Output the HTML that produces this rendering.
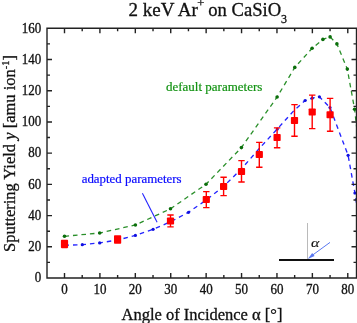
<!DOCTYPE html>
<html><head><meta charset="utf-8"><style>
html,body{margin:0;padding:0;background:#fff;width:357px;height:323px;overflow:hidden;}
svg{display:block;font-family:"Liberation Serif",serif;will-change:transform;}
</style></head><body>
<svg width="357" height="323" viewBox="0 0 357 323">
<defs><clipPath id="c"><rect x="47.0" y="28.3" width="309.5" height="249.7"/></clipPath></defs>
<line x1="307.5" y1="223" x2="307.5" y2="259" stroke="#a8a8a8" stroke-width="0.8"/>
<line x1="279" y1="260" x2="334" y2="260" stroke="#111" stroke-width="2"/>
<line x1="330" y1="242.4" x2="312" y2="255.5" stroke="#5a78f0" stroke-width="1.0"/>
<path d="M307.8,259 L312.2,253.1 L314.6,256.1 Z" fill="#5a78f0"/>
<text transform="translate(310.9,246.7) scale(1,0.8)" font-family="Liberation Serif" font-style="italic" font-size="16" fill="#111" stroke="#111" stroke-width="0.15">&#945;</text>
<g clip-path="url(#c)"><polyline points="64.50,236.30 99.70,233.00 135.40,225.00 170.50,208.80 206.00,184.30 241.40,147.60 277.10,97.00 294.80,67.40 312.10,48.30 322.90,39.40 330.10,36.90 336.90,43.90 347.30,69.10 354.60,109.20 365.00,200.00" fill="none" stroke="#2a8f2a" stroke-width="1.3" stroke-dasharray="4.6,3.9"/><polyline points="64.50,245.20 82.30,244.70 99.70,242.90 117.60,240.00 135.40,235.40 153.10,229.30 170.50,221.80 188.50,212.30 206.20,200.00 223.60,186.40 241.50,168.80 259.30,148.50 277.30,129.00 294.40,110.10 305.10,100.50 312.10,98.20 319.40,96.80 330.00,107.60 348.10,155.30 354.90,193.00 362.00,240.00" fill="none" stroke="#2424ff" stroke-width="1.35" stroke-dasharray="4.5,4"/><circle cx="64.50" cy="236.30" r="1.8" fill="#0b6e0b"/><circle cx="99.70" cy="233.00" r="1.8" fill="#0b6e0b"/><circle cx="135.40" cy="225.00" r="1.8" fill="#0b6e0b"/><circle cx="170.50" cy="208.80" r="1.8" fill="#0b6e0b"/><circle cx="206.00" cy="184.30" r="1.8" fill="#0b6e0b"/><circle cx="241.40" cy="147.60" r="1.8" fill="#0b6e0b"/><circle cx="277.10" cy="97.00" r="1.8" fill="#0b6e0b"/><circle cx="294.80" cy="67.40" r="1.8" fill="#0b6e0b"/><circle cx="312.10" cy="48.30" r="1.8" fill="#0b6e0b"/><circle cx="322.90" cy="39.40" r="1.8" fill="#0b6e0b"/><circle cx="330.10" cy="36.90" r="1.8" fill="#0b6e0b"/><circle cx="336.90" cy="43.90" r="1.8" fill="#0b6e0b"/><circle cx="347.30" cy="69.10" r="1.8" fill="#0b6e0b"/><circle cx="354.60" cy="109.20" r="1.8" fill="#0b6e0b"/><circle cx="82.30" cy="244.70" r="1.6" fill="#1010e0"/><circle cx="99.70" cy="242.90" r="1.6" fill="#1010e0"/><circle cx="135.40" cy="235.40" r="1.6" fill="#1010e0"/><circle cx="153.10" cy="229.30" r="1.6" fill="#1010e0"/><circle cx="188.50" cy="212.30" r="1.6" fill="#1010e0"/><circle cx="277.30" cy="129.00" r="1.6" fill="#1010e0"/><circle cx="305.10" cy="100.50" r="1.6" fill="#1010e0"/><circle cx="312.10" cy="98.20" r="1.6" fill="#1010e0"/><circle cx="319.40" cy="96.80" r="1.6" fill="#1010e0"/><circle cx="330.00" cy="107.60" r="1.6" fill="#1010e0"/><circle cx="348.10" cy="155.30" r="1.6" fill="#1010e0"/><circle cx="354.90" cy="193.00" r="1.6" fill="#1010e0"/></g>
<line x1="142.4" y1="193.2" x2="157.1" y2="222.2" stroke="#2424ff" stroke-width="1.1"/>
<rect x="60.90" y="239.85" width="7.2" height="8.30" rx="0.8" fill="#ff0000"/>
<rect x="114.00" y="235.20" width="7.2" height="8.60" rx="0.8" fill="#ff0000"/>
<path d="M170.50,215.00 V226.90 M167.30,215.00 H173.70 M167.30,226.90 H173.70" stroke="#ff0000" stroke-width="1.4" fill="none"/>
<rect x="166.90" y="217.60" width="7.2" height="7.00" rx="0.8" fill="#ff0000"/>
<path d="M206.30,191.60 V207.60 M203.10,191.60 H209.50 M203.10,207.60 H209.50" stroke="#ff0000" stroke-width="1.4" fill="none"/>
<rect x="202.70" y="196.10" width="7.2" height="7.00" rx="0.8" fill="#ff0000"/>
<path d="M223.60,177.20 V195.60 M220.40,177.20 H226.80 M220.40,195.60 H226.80" stroke="#ff0000" stroke-width="1.4" fill="none"/>
<rect x="220.00" y="183.00" width="7.2" height="7.00" rx="0.8" fill="#ff0000"/>
<path d="M241.50,160.60 V182.00 M238.30,160.60 H244.70 M238.30,182.00 H244.70" stroke="#ff0000" stroke-width="1.4" fill="none"/>
<rect x="237.90" y="168.10" width="7.2" height="7.00" rx="0.8" fill="#ff0000"/>
<path d="M259.30,142.40 V167.20 M256.10,142.40 H262.50 M256.10,167.20 H262.50" stroke="#ff0000" stroke-width="1.4" fill="none"/>
<rect x="255.70" y="151.10" width="7.2" height="7.00" rx="0.8" fill="#ff0000"/>
<path d="M277.10,127.90 V147.70 M273.90,127.90 H280.30 M273.90,147.70 H280.30" stroke="#ff0000" stroke-width="1.4" fill="none"/>
<rect x="273.50" y="134.10" width="7.2" height="7.00" rx="0.8" fill="#ff0000"/>
<path d="M294.50,104.60 V136.20 M291.30,104.60 H297.70 M291.30,136.20 H297.70" stroke="#ff0000" stroke-width="1.4" fill="none"/>
<rect x="290.90" y="117.00" width="7.2" height="7.00" rx="0.8" fill="#ff0000"/>
<path d="M312.20,95.10 V128.60 M309.00,95.10 H315.40 M309.00,128.60 H315.40" stroke="#ff0000" stroke-width="1.4" fill="none"/>
<rect x="308.60" y="108.50" width="7.2" height="7.00" rx="0.8" fill="#ff0000"/>
<path d="M330.10,98.40 V131.30 M326.90,98.40 H333.30 M326.90,131.30 H333.30" stroke="#ff0000" stroke-width="1.4" fill="none"/>
<rect x="326.50" y="111.30" width="7.2" height="7.00" rx="0.8" fill="#ff0000"/>
<text x="166" y="90.8" font-family="Liberation Serif" font-size="13" fill="#129212" stroke="#129212" stroke-width="0.2">default parameters</text>
<text x="81.7" y="182.7" font-family="Liberation Serif" font-size="12.9" fill="#0a0aff" stroke="#0a0aff" stroke-width="0.2">adapted parameters</text>
<path d="M47.0,28.3 H356.5 V278.0 H47.0 Z M64.50,278.0 v-5 M64.50,28.3 v5 M82.20,278.0 v-3 M82.20,28.3 v3 M99.91,278.0 v-5 M99.91,28.3 v5 M117.62,278.0 v-3 M117.62,28.3 v3 M135.32,278.0 v-5 M135.32,28.3 v5 M153.02,278.0 v-3 M153.02,28.3 v3 M170.73,278.0 v-5 M170.73,28.3 v5 M188.44,278.0 v-3 M188.44,28.3 v3 M206.14,278.0 v-5 M206.14,28.3 v5 M223.84,278.0 v-3 M223.84,28.3 v3 M241.55,278.0 v-5 M241.55,28.3 v5 M259.25,278.0 v-3 M259.25,28.3 v3 M276.96,278.0 v-5 M276.96,28.3 v5 M294.66,278.0 v-3 M294.66,28.3 v3 M312.37,278.0 v-5 M312.37,28.3 v5 M330.07,278.0 v-3 M330.07,28.3 v3 M347.78,278.0 v-5 M347.78,28.3 v5 M47.0,278.00 h5 M356.5,278.00 h-5 M47.0,262.39 h3 M356.5,262.39 h-3 M47.0,246.79 h5 M356.5,246.79 h-5 M47.0,231.18 h3 M356.5,231.18 h-3 M47.0,215.58 h5 M356.5,215.58 h-5 M47.0,199.97 h3 M356.5,199.97 h-3 M47.0,184.36 h5 M356.5,184.36 h-5 M47.0,168.76 h3 M356.5,168.76 h-3 M47.0,153.15 h5 M356.5,153.15 h-5 M47.0,137.55 h3 M356.5,137.55 h-3 M47.0,121.94 h5 M356.5,121.94 h-5 M47.0,106.33 h3 M356.5,106.33 h-3 M47.0,90.73 h5 M356.5,90.73 h-5 M47.0,75.12 h3 M356.5,75.12 h-3 M47.0,59.52 h5 M356.5,59.52 h-5 M47.0,43.91 h3 M356.5,43.91 h-3 M47.0,28.30 h5 M356.5,28.30 h-5" fill="none" stroke="#222" stroke-width="1.4"/>
<text transform="translate(64.50,293.6) scale(1,1.12)" text-anchor="middle" font-family="Liberation Serif" font-size="13" fill="#111" stroke="#111" stroke-width="0.3">0</text>
<text transform="translate(99.91,293.6) scale(1,1.12)" text-anchor="middle" font-family="Liberation Serif" font-size="13" fill="#111" stroke="#111" stroke-width="0.3">10</text>
<text transform="translate(135.32,293.6) scale(1,1.12)" text-anchor="middle" font-family="Liberation Serif" font-size="13" fill="#111" stroke="#111" stroke-width="0.3">20</text>
<text transform="translate(170.73,293.6) scale(1,1.12)" text-anchor="middle" font-family="Liberation Serif" font-size="13" fill="#111" stroke="#111" stroke-width="0.3">30</text>
<text transform="translate(206.14,293.6) scale(1,1.12)" text-anchor="middle" font-family="Liberation Serif" font-size="13" fill="#111" stroke="#111" stroke-width="0.3">40</text>
<text transform="translate(241.55,293.6) scale(1,1.12)" text-anchor="middle" font-family="Liberation Serif" font-size="13" fill="#111" stroke="#111" stroke-width="0.3">50</text>
<text transform="translate(276.96,293.6) scale(1,1.12)" text-anchor="middle" font-family="Liberation Serif" font-size="13" fill="#111" stroke="#111" stroke-width="0.3">60</text>
<text transform="translate(312.37,293.6) scale(1,1.12)" text-anchor="middle" font-family="Liberation Serif" font-size="13" fill="#111" stroke="#111" stroke-width="0.3">70</text>
<text transform="translate(347.78,293.6) scale(1,1.12)" text-anchor="middle" font-family="Liberation Serif" font-size="13" fill="#111" stroke="#111" stroke-width="0.3">80</text>
<text transform="translate(41.3,282.20) scale(1,1.12)" text-anchor="end" font-family="Liberation Serif" font-size="13" fill="#111" stroke="#111" stroke-width="0.3">0</text>
<text transform="translate(41.3,250.99) scale(1,1.12)" text-anchor="end" font-family="Liberation Serif" font-size="13" fill="#111" stroke="#111" stroke-width="0.3">20</text>
<text transform="translate(41.3,219.78) scale(1,1.12)" text-anchor="end" font-family="Liberation Serif" font-size="13" fill="#111" stroke="#111" stroke-width="0.3">40</text>
<text transform="translate(41.3,188.56) scale(1,1.12)" text-anchor="end" font-family="Liberation Serif" font-size="13" fill="#111" stroke="#111" stroke-width="0.3">60</text>
<text transform="translate(41.3,157.35) scale(1,1.12)" text-anchor="end" font-family="Liberation Serif" font-size="13" fill="#111" stroke="#111" stroke-width="0.3">80</text>
<text transform="translate(41.3,126.14) scale(1,1.12)" text-anchor="end" font-family="Liberation Serif" font-size="13" fill="#111" stroke="#111" stroke-width="0.3">100</text>
<text transform="translate(41.3,94.93) scale(1,1.12)" text-anchor="end" font-family="Liberation Serif" font-size="13" fill="#111" stroke="#111" stroke-width="0.3">120</text>
<text transform="translate(41.3,63.72) scale(1,1.12)" text-anchor="end" font-family="Liberation Serif" font-size="13" fill="#111" stroke="#111" stroke-width="0.3">140</text>
<text transform="translate(41.3,32.50) scale(1,1.12)" text-anchor="end" font-family="Liberation Serif" font-size="13" fill="#111" stroke="#111" stroke-width="0.3">160</text>
<text x="121.5" y="319.7" font-family="Liberation Serif" font-size="16.5" fill="#111" stroke="#111" stroke-width="0.3">Angle of Incidence &#945; [&#176;]</text>
<text transform="translate(15.2,251.9) rotate(-90)" x="0" y="0" font-family="Liberation Serif" font-size="16.5" fill="#111" stroke="#111" stroke-width="0.3">Sputtering Yield <tspan font-style="italic">y</tspan> [amu ion<tspan dy="-6.5" font-size="10.5">-1</tspan><tspan dy="6.5">]</tspan></text>
<g font-family="Liberation Serif" fill="#111" stroke="#111" stroke-width="0.3"><text x="128.5" y="15.6" font-size="19">2 keV Ar</text><text x="197.3" y="7.2" font-size="12.5">+</text><text x="208.3" y="15.6" font-size="18.6">on CaSiO</text><text x="281.1" y="22.6" font-size="12">3</text></g>
</svg>
</body></html>
